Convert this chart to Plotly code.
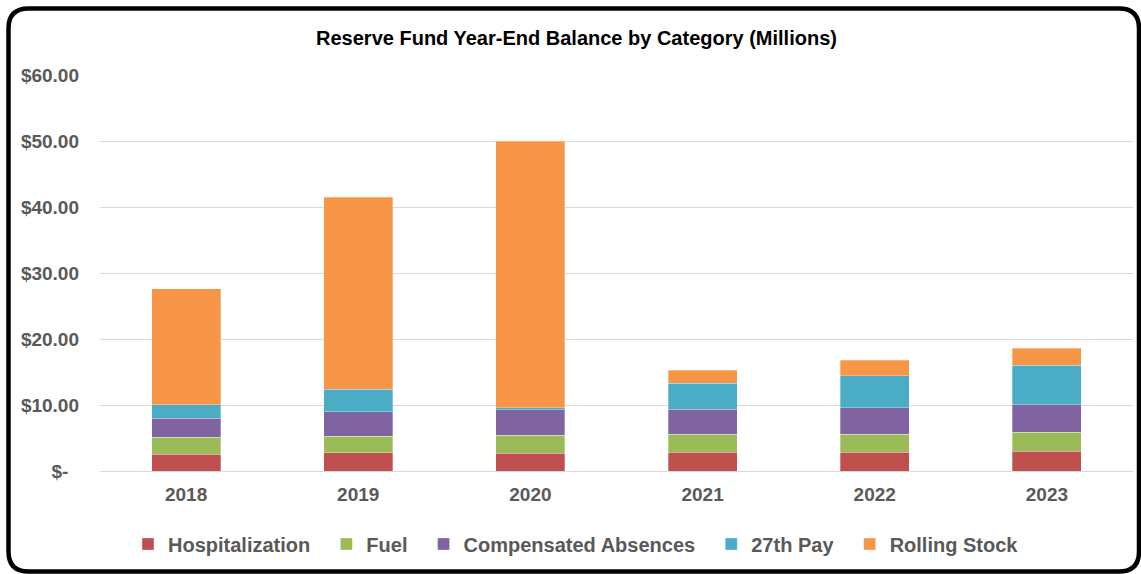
import plotly.graph_objects as go

years = ["2018", "2019", "2020", "2021", "2022", "2023"]
hospitalization = [2.53, 2.73, 2.68, 2.83, 2.83, 2.98]
fuel = [2.57, 2.53, 2.72, 2.73, 2.73, 2.88]
compensated_absences = [2.88, 3.74, 3.89, 3.83, 4.04, 4.19]
pay_27th = [2.07, 3.37, 0.31, 3.89, 4.85, 6.01]
rolling_stock = [17.55, 29.10, 40.40, 1.97, 2.35, 2.54]

series = [
    ("Hospitalization", hospitalization, "#C0504D"),
    ("Fuel", fuel, "#9BBB59"),
    ("Compensated Absences", compensated_absences, "#8064A2"),
    ("27th Pay", pay_27th, "#4BACC6"),
    ("Rolling Stock", rolling_stock, "#F79646"),
]

tick_vals = [0, 10, 20, 30, 40, 50, 60]
tick_text = ["$-\u00a0\u00a0", "$10.00", "$20.00", "$30.00", "$40.00", "$50.00", "$60.00"]

FONT = "Liberation Sans, Arial, sans-serif"
GRAY = "#595959"

W, H = 1141, 574
L, R, T, B = 100, 8, 75, 103
PW, PH = W - L - R, H - T - B

fig = go.Figure()
for name, vals, col in series:
    fig.add_trace(go.Bar(
        x=years, y=vals, name=name + "\u00a0\u00a0",
        marker=dict(color=col, line=dict(color="rgba(255,255,255,0.5)", width=0.6)),
    ))

def px2paper(x, y):
    return (x - L) / PW, (H - B - y) / PH

# rounded border around the chart
x0, y0, x1, y1, r = 8.5, 8.5, 1139.0, 571.5, 20
def P(x, y):
    a, b = px2paper(x, y)
    return f"{a:.5f},{b:.5f}"
path = (f"M {P(x0 + r, y0)} L {P(x1 - r, y0)} Q {P(x1, y0)} {P(x1, y0 + r)} "
        f"L {P(x1, y1 - r)} Q {P(x1, y1)} {P(x1 - r, y1)} "
        f"L {P(x0 + r, y1)} Q {P(x0, y1)} {P(x0, y1 - r)} "
        f"L {P(x0, y0 + r)} Q {P(x0, y0)} {P(x0 + r, y0)} Z")

fig.update_layout(
    width=W, height=H,
    margin=dict(l=L, r=R, t=T, b=B),
    paper_bgcolor="white", plot_bgcolor="white",
    barmode="stack", bargap=0.6,
    font=dict(family=FONT, color=GRAY, size=19),
    title=dict(
        text="<b>Reserve Fund Year-End Balance by Category (Millions)</b>",
        x=576.5 / W, xref="container", xanchor="center",
        y=1 - 38 / H, yref="container", yanchor="middle",
        font=dict(family=FONT, size=20, color="black"),
    ),
    legend=dict(
        orientation="h", x=(581 - L) / PW, xanchor="center",
        y=(H - B - 544) / PH, yanchor="middle",
        font=dict(family=FONT, size=20, color=GRAY, weight="bold"),
        traceorder="normal",
    ),
    shapes=[dict(type="path", xref="paper", yref="paper", path=path,
                 line=dict(color="black", width=4.5), fillcolor="rgba(0,0,0,0)", layer="above")],
)
fig.update_xaxes(
    showgrid=False, showline=False, ticks="",
    tickfont=dict(family=FONT, size=19, color=GRAY, weight="bold"),
    ticklabelstandoff=10,
)
fig.update_yaxes(
    range=[0, 60], tickvals=tick_vals, ticktext=tick_text,
    showgrid=True, gridcolor="#D9D9D9", gridwidth=1,
    zeroline=True, zerolinecolor="#D9D9D9", zerolinewidth=1,
    showline=False, ticks="",
    tickfont=dict(family=FONT, size=19, color=GRAY, weight="bold"),
    ticklabelstandoff=20,
)

fig.write_html("out.html")
